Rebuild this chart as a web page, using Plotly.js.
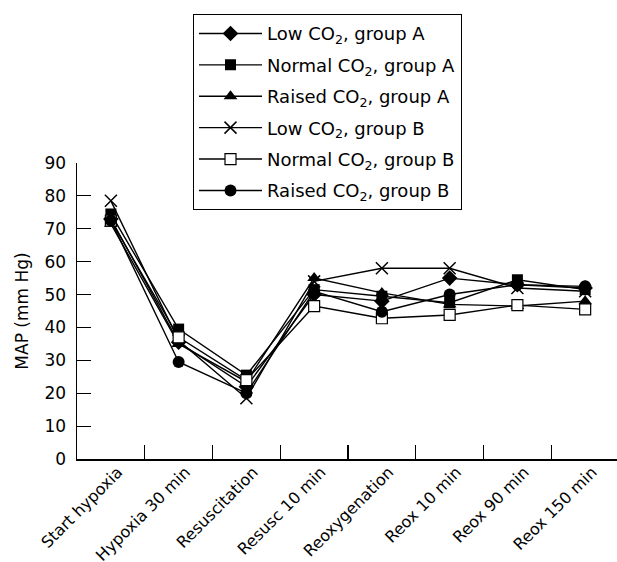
<!DOCTYPE html>
<html>
<head>
<meta charset="utf-8">
<script src="https://cdn.plot.ly/plotly-3.0.1.min.js"></script>
<style>html,body{margin:0;padding:0;background:#fff}#chart{width:617px;height:562px}</style>
</head>
<body>
<div id="chart"></div>
<script>
var categories = ["Start hypoxia", "Hypoxia 30 min", "Resuscitation", "Resusc 10 min", "Reoxygenation", "Reox 10 min", "Reox 90 min", "Reox 150 min"];
var seriesNames = ["Low CO<sub>2</sub>, group A", "Normal CO<sub>2</sub>, group A", "Raised CO<sub>2</sub>, group A", "Low CO<sub>2</sub>, group B", "Normal CO<sub>2</sub>, group B", "Raised CO<sub>2</sub>, group B"];
var lowA    = [73, 35.5, 22, 50, 48, 55, 53, 52];
var normalA = [74.5, 39.5, 25.5, 51.5, 49.5, 47.5, 54.5, 51.5];
var raisedA = [71.5, 35, 23.5, 55, 50.5, 47, 46.5, 48];
var lowB    = [78.5, 36, 18.5, 54, 58, 58, 52, 51];
var normalB = [72.5, 37, 24, 46.5, 42.8, 43.8, 46.8, 45.5];
var raisedB = [72.5, 29.5, 20, 51, 44.8, 50, 53, 52.5];
var yTicks = [0, 10, 20, 30, 40, 50, 60, 70, 80, 90];

var values = [lowA, normalA, raisedA, lowB, normalB, raisedB];
var markers = [
  {symbol: "diamond", size: 12, color: "#000"},
  {symbol: "square", size: 11, color: "#000"},
  {symbol: "triangle-up", size: 12, color: "#000"},
  {symbol: "x-thin-open", size: 12, color: "#000", line: {width: 1.5, color: "#000"}},
  {symbol: "square", size: 11, color: "#fff", line: {width: 1.2, color: "#000"}},
  {symbol: "circle", size: 12, color: "#000"}
];
var FONT = "'DejaVu Sans', sans-serif";
var traces = values.map(function(v, i) {
  return {
    x: categories, y: v, type: "scatter", mode: "lines+markers",
    name: seriesNames[i], legendgroup: "g" + i,
    line: {color: "#000", width: 1.4},
    marker: markers[i]
  };
});
var layout = {
  width: 617, height: 562,
  margin: {l: 77, r: 0, t: 163, b: 102.5},
  paper_bgcolor: "#fff", plot_bgcolor: "#fff",
  font: {family: FONT, color: "#000", size: 16},
  showlegend: true,
  legend: {
    xref: "paper", yref: "paper",
    font: {family: FONT, size: 18, color: "#000"},
    bordercolor: "#000", borderwidth: 1, bgcolor: "#fff",
    traceorder: "grouped", tracegroupgap: 5,
    itemwidth: 63,
    xanchor: "left", yanchor: "top"
  },
  xaxis: {
    type: "category", range: [-0.5, 7.47],
    showline: true, linecolor: "#000", linewidth: 1.5,
    ticks: "inside", ticklen: 14, tickcolor: "#000", tickwidth: 1.2,
    tickson: "boundaries", tickangle: -45,
    ticklabelstandoff: -4, ticklabelshift: 7,
    showgrid: false, zeroline: false,
    tickfont: {family: FONT, size: 16, color: "#000"}
  },
  yaxis: {
    range: [0, 90], tickvals: yTicks, ticktext: yTicks.map(String),
    showline: true, linecolor: "#000", linewidth: 1.5,
    ticks: "inside", ticklen: 14, tickcolor: "#000", tickwidth: 1.2,
    ticklabelstandoff: 6,
    showgrid: false, zeroline: false,
    tickfont: {family: FONT, size: 17, color: "#000"},
    title: {text: "MAP (mm Hg)", font: {family: FONT, size: 17, color: "#000"}, standoff: 11}
  }
};
// legend position in paper coords: box left ~193px, top ~14px
layout.legend.x = (193 - 77) / 540;
layout.legend.y = 1 + (163 - 14) / 296.5;
Plotly.newPlot("chart", traces, layout, {displayModeBar: false, staticPlot: true});
</script>
</body>
</html>
